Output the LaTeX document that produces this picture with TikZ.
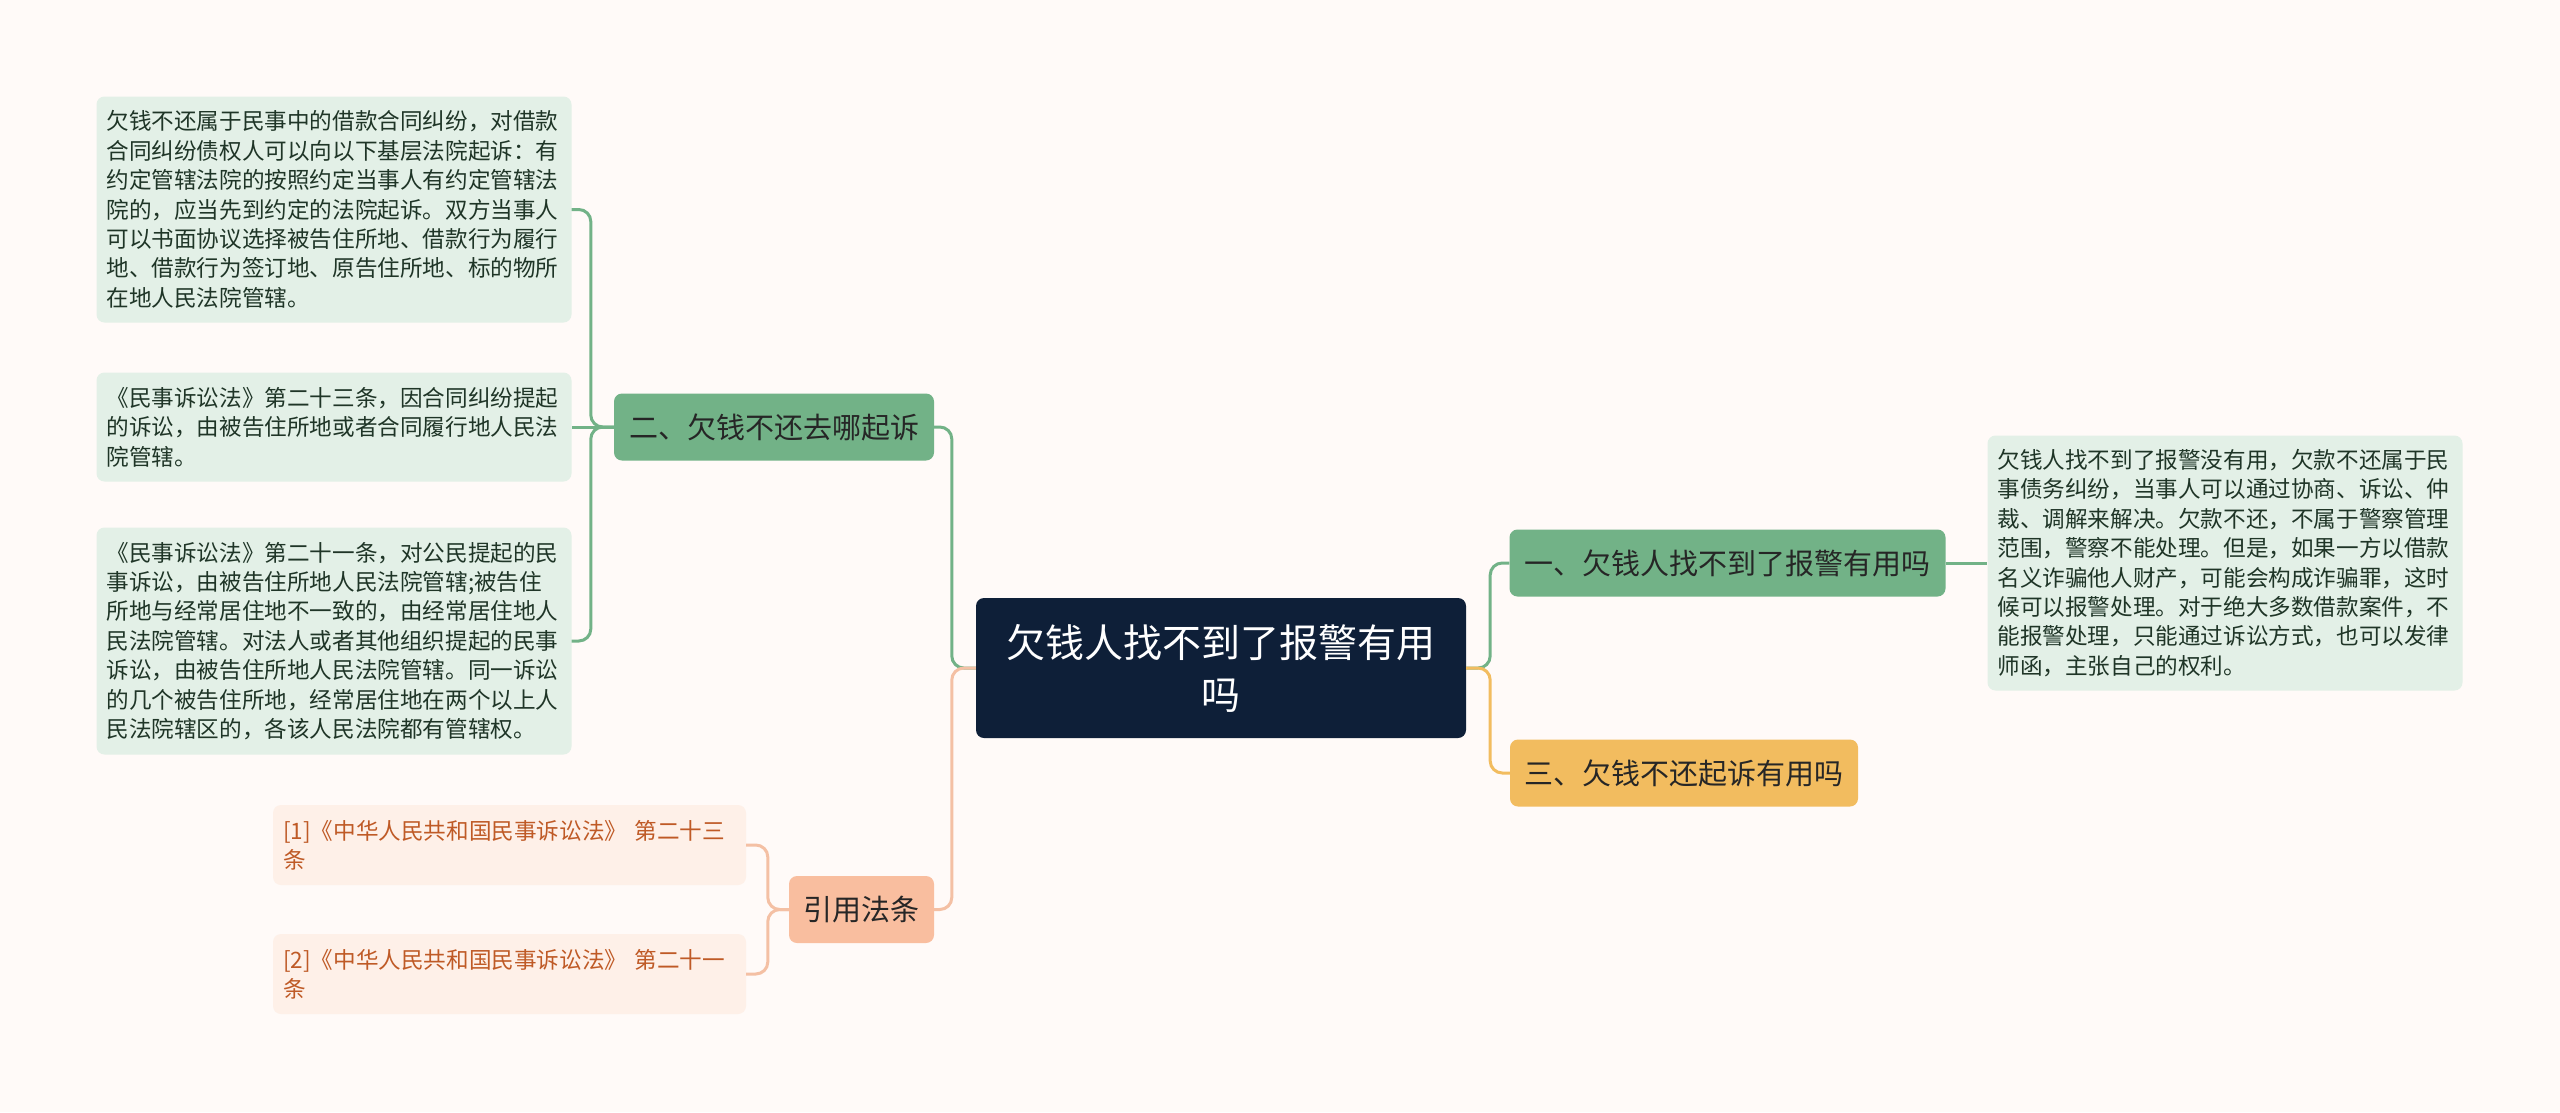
\documentclass[tikz,border=0pt]{standalone}
\usepackage{fontspec}
\setmainfont{Noto Sans CJK SC}

\definecolor{bgcol}{HTML}{FFFAF8}
\definecolor{rootcol}{HTML}{0E1F38}
\definecolor{grncol}{HTML}{72B287}
\definecolor{grnleaf}{HTML}{E3F0E7}
\definecolor{grntext}{HTML}{1F3527}
\definecolor{peachcol}{HTML}{F9BE9F}
\definecolor{peachleaf}{HTML}{FEF0E8}
\definecolor{peachtext}{HTML}{BF5A26}
\definecolor{peachline}{HTML}{F4C0A4}
\definecolor{orgcol}{HTML}{F2BC5F}

\tikzset{
  rootbox/.style={fill=rootcol, text=white, rounded corners=8pt, align=center,
    minimum width=490pt, minimum height=140pt, text width=470pt, inner sep=0pt,
    font=\fontsize{39}{52}\selectfont},
  branchbox/.style={rounded corners=8pt, inner sep=0pt, minimum height=67pt,
    text=black!85, font=\fontsize{29}{36}\selectfont},
  leafbox/.style={fill=grnleaf, text=grntext, rounded corners=8pt, align=left,
    inner xsep=10pt, inner ysep=0pt, text width=455pt, minimum width=475pt,
    font=\fontsize{22.6}{29.4}\selectfont},
  citebox/.style={fill=peachleaf, text=peachtext, rounded corners=8pt, align=left,
    inner xsep=10pt, inner ysep=0pt, text width=453pt, minimum width=473pt,
    minimum height=80pt, font=\fontsize{22.6}{29.4}\selectfont},
  link/.style={line width=3pt, rounded corners=12pt},
}

\begin{document}
\begin{tikzpicture}[x=1pt, y=-1pt]
\useasboundingbox [fill=bgcol] (0, 0) rectangle (2560, 1112);

% centre
\node [rootbox] (root) at (1221, 668) {欠钱人找不到了报警有用\\吗};

% first level
\node [branchbox, fill=grncol, minimum width=436pt] (b1) at (1727.5, 563) {一、欠钱人找不到了报警有用吗};
\node [branchbox, fill=grncol, minimum width=320pt] (b2) at (774, 427) {二、欠钱不还去哪起诉};
\node [branchbox, fill=orgcol, minimum width=348pt] (b3) at (1684, 773) {三、欠钱不还起诉有用吗};
\node [branchbox, fill=peachcol, minimum width=145pt] (b4) at (861.5, 909.5) {引用法条};

% leaves
\node [leafbox, minimum height=255pt] (r1) at (2225, 563) {欠钱人找不到了报警没有用，欠款不还属于民\\事债务纠纷，当事人可以通过协商、诉讼、仲\\裁、调解来解决。欠款不还，不属于警察管理\\范围，警察不能处理。但是，如果一方以借款\\名义诈骗他人财产，可能会构成诈骗罪，这时\\候可以报警处理。对于绝大多数借款案件，不\\能报警处理，只能通过诉讼方式，也可以发律\\师函，主张自己的权利。};

\node [leafbox, minimum height=226pt] (l1) at (334, 209.5) {欠钱不还属于民事中的借款合同纠纷，对借款\\合同纠纷债权人可以向以下基层法院起诉：有\\约定管辖法院的按照约定当事人有约定管辖法\\院的，应当先到约定的法院起诉。双方当事人\\可以书面协议选择被告住所地、借款行为履行\\地、借款行为签订地、原告住所地、标的物所\\在地人民法院管辖。};
\node [leafbox, minimum height=109pt] (l2) at (334, 427) {《民事诉讼法》第二十三条，因合同纠纷提起\\的诉讼，由被告住所地或者合同履行地人民法\\院管辖。};
\node [leafbox, minimum height=227pt] (l3) at (334, 641) {《民事诉讼法》第二十一条，对公民提起的民\\事诉讼，由被告住所地人民法院管辖;被告住\\所地与经常居住地不一致的，由经常居住地人\\民法院管辖。对法人或者其他组织提起的民事\\诉讼，由被告住所地人民法院管辖。同一诉讼\\的几个被告住所地，经常居住地在两个以上人\\民法院辖区的，各该人民法院都有管辖权。};

\node [citebox] (c1) at (509.5, 845) {[1]《中华人民共和国民事诉讼法》 第二十三\\条};
\node [citebox] (c2) at (509.5, 974) {[2]《中华人民共和国民事诉讼法》 第二十一\\条};

% links
\draw [link, grncol] (root.east) -- ++(24, 0) |- (b1.west);
\draw [link, orgcol] (root.east) -- ++(24, 0) |- (b3.west);
\draw [link, grncol] (root.west) -- ++(-24, 0) |- (b2.east);
\draw [link, peachline] (root.west) -- ++(-24, 0) |- (b4.east);

\draw [link, grncol] (b1.east) to (r1.west);
\draw [link, grncol] (b2.west) -- ++(-23, 0) |- (l1.east);
\draw [link, grncol] (b2.west) to (l2.east);
\draw [link, grncol] (b2.west) -- ++(-23, 0) |- (l3.east);
\draw [link, peachline] (b4.west) -- ++(-21, 0) |- (c1.east);
\draw [link, peachline] (b4.west) -- ++(-21, 0) |- (c2.east);
\end{tikzpicture}
\end{document}
